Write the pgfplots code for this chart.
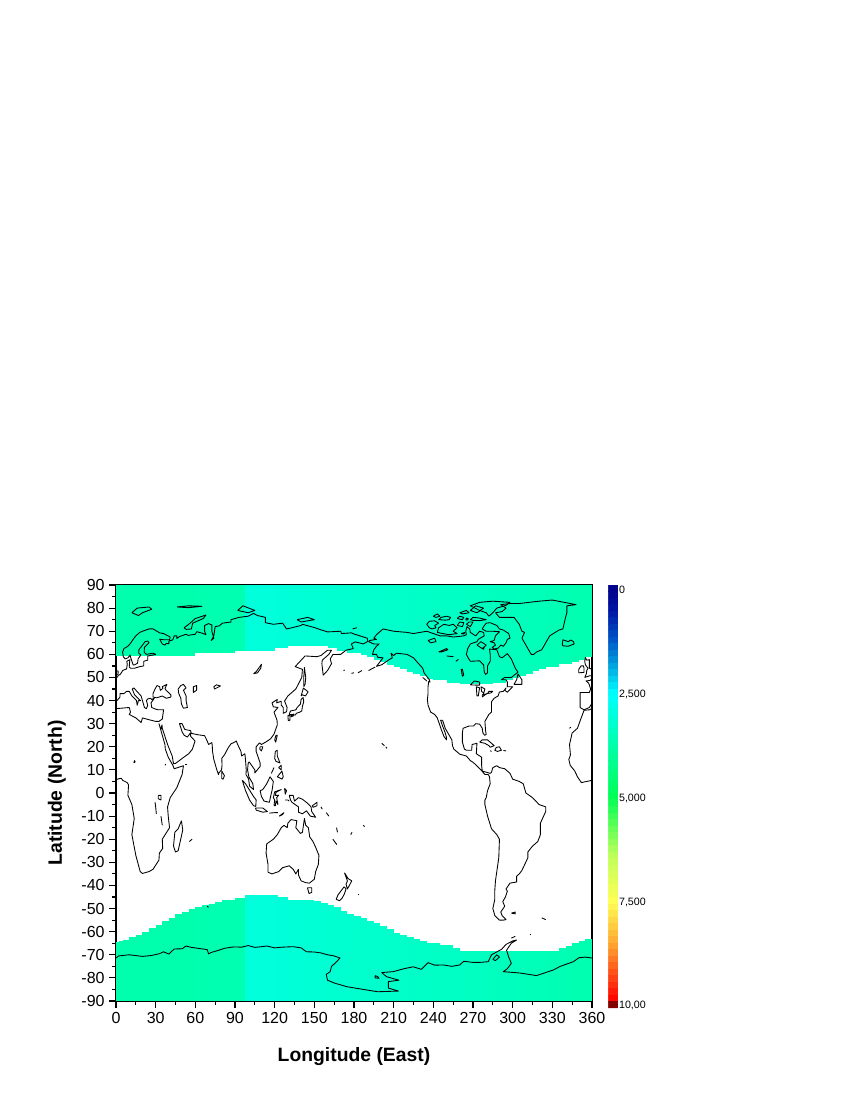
\documentclass[border=0pt]{standalone}
\usepackage{fontspec}
\setmainfont{Liberation Sans}
\usepackage{pgfplots}
\usepackage{pgfplotstable}
\pgfplotsset{compat=1.18}
\pgfplotstableread{
lon n s m
1.25 59.4 -64.5 3.72
3.75 59.4 -64 3.72
6.25 59.4 -63.5 3.72
8.75 59.4 -63.5 3.72
11.25 59.4 -62.5 3.72
13.75 59.4 -62.5 3.72
16.25 59.4 -61.5 3.72
18.75 59.4 -61.5 3.72
21.25 59.4 -60 3.72
23.75 59.4 -60 3.72
26.25 59.4 -58.5 3.72
28.75 59.4 -58.5 3.72
31.25 59.4 -57 3.72
33.75 59.4 -57 3.72
36.25 59.4 -55.5 3.72
38.75 59.4 -55.5 3.72
41.25 59.4 -54 3.7
43.75 59.4 -54 3.7
46.25 59.4 -52.5 3.7
48.75 59.4 -52.5 3.7
51.25 59.4 -51.3 3.7
53.75 59.4 -51.3 3.7
56.25 59.4 -50.2 3.7
58.75 59.4 -50.2 3.7
61.25 60.7 -49.2 3.68
63.75 60.7 -49.2 3.68
66.25 60.7 -48.5 3.68
68.75 60.7 -48.5 3.68
71.25 60.7 -48 3.68
73.75 60.7 -48 3.68
76.25 60.7 -47.2 3.68
78.75 60.7 -47.2 3.68
81.25 60.7 -46.3 3.66
83.75 60.7 -46.3 3.66
86.25 60.7 -46.3 3.66
88.75 60.7 -46.3 3.66
91.25 61.6 -45.5 3.66
93.75 61.6 -45.5 3.66
96.25 61.6 -45.5 3.66
98.75 61.6 -44.3 3.05
101.25 61.6 -44.3 3.05
103.75 61.6 -44.3 3.05
106.25 61.6 -44.3 3.05
108.75 61.6 -44.3 3.05
111.25 61.6 -44.3 3.05
113.75 61.6 -44.3 3.05
116.25 61.6 -44.3 3.05
118.75 61.6 -44.3 3.05
121.25 62.6 -44.3 3.05
123.75 62.6 -45.2 3.07
126.25 62.6 -45.2 3.07
128.75 62.6 -45.2 3.07
131.25 63.6 -46.2 3.09
133.75 63.6 -46.2 3.09
136.25 63.6 -46.2 3.09
138.75 63.6 -46.2 3.11
141.25 63.6 -46.2 3.11
143.75 63.6 -46.2 3.11
146.25 63.6 -46.2 3.13
148.75 63.6 -46.2 3.13
151.25 63.6 -46.8 3.13
153.75 63.6 -46.8 3.15
156.25 63.6 -47.5 3.15
158.75 63.6 -47.5 3.15
161.25 62.6 -48.4 3.17
163.75 62.6 -48.4 3.17
166.25 62.6 -49.5 3.17
168.75 61.6 -49.5 3.19
171.25 61.6 -51 3.19
173.75 61.6 -51 3.19
176.25 60.7 -52.3 3.21
178.75 60.7 -52.3 3.21
181.25 60.7 -53.3 3.21
183.75 60.7 -53.3 3.23
186.25 59.7 -54.3 3.23
188.75 59.7 -54.3 3.23
191.25 58.7 -55.2 3.25
193.75 58.7 -55.2 3.25
196.25 57.5 -56.2 3.25
198.75 57.5 -56.2 3.25
201.25 56.5 -57.5 3.27
203.75 56.5 -57.5 3.27
206.25 55.5 -59 3.27
208.75 55.5 -59 3.27
211.25 54.5 -60.5 3.29
213.75 54.5 -60.5 3.29
216.25 53.5 -61.5 3.29
218.75 53.5 -61.5 3.29
221.25 52.5 -62.3 3.31
223.75 52.5 -62.3 3.31
226.25 51.5 -63.2 3.31
228.75 51.5 -63.2 3.31
231.25 50.5 -64.2 3.33
233.75 50.5 -64.2 3.33
236.25 49.5 -65 3.33
238.75 49.5 -65 3.33
241.25 48.7 -65 3.35
243.75 48.7 -65 3.35
246.25 48.7 -65.7 3.35
248.75 48.7 -65.7 3.35
251.25 47.7 -65.7 3.37
253.75 47.7 -65.7 3.37
256.25 47.7 -67 3.37
258.75 47.7 -67 3.37
261.25 47 -68.4 3.39
263.75 47 -68.4 3.39
266.25 47 -68.4 3.39
268.75 47 -68.4 3.41
271.25 47 -68.4 3.41
273.75 47 -68.4 3.41
276.25 47 -68.4 3.43
278.75 47 -68.4 3.43
281.25 47 -68.4 3.43
283.75 47 -68.4 3.45
286.25 47.7 -68.4 3.45
288.75 47.7 -68.4 3.45
291.25 47.7 -68.4 3.47
293.75 47.7 -68.4 3.47
296.25 48.7 -68.4 3.47
298.75 48.7 -68.4 3.49
301.25 49.7 -68.4 3.49
303.75 49.7 -68.4 3.49
306.25 50.7 -68.4 3.51
308.75 50.7 -68.4 3.51
311.25 51.7 -68.4 3.51
313.75 51.7 -68.4 3.53
316.25 52.7 -68.4 3.53
318.75 52.7 -68.4 3.53
321.25 53.7 -68.4 3.55
323.75 53.7 -68.4 3.55
326.25 54.7 -68.4 3.57
328.75 54.7 -68.4 3.57
331.25 54.7 -68.4 3.59
333.75 54.7 -68.4 3.59
336.25 55.7 -67 3.61
338.75 55.7 -67 3.61
341.25 55.7 -66 3.63
343.75 55.7 -66 3.63
346.25 56.7 -64.7 3.65
348.75 56.7 -64.7 3.65
351.25 57.7 -64 3.67
353.75 57.7 -64 3.67
356.25 58.7 -63.3 3.69
358.75 58.7 -63.3 3.69
}\bandtable
\pgfplotsset{
 coast/.style={black,line width=0.65pt,no markers,line join=round,forget plot},
}
\begin{document}
\begin{tikzpicture}
\useasboundingbox (0pt,0pt) rectangle (637.5pt,825pt);
\begin{axis}[
 at={(87pt,74.25pt)},anchor=south west,
 scale only axis,width=357pt,height=312pt,
 xmin=0,xmax=360,ymin=-90,ymax=90,
 xtick={0,30,...,360},minor xtick={15,45,...,345},
 ytick={-90,-80,...,90},minor ytick={-85,-75,...,85},
 xtick pos=bottom,ytick pos=left,tick align=outside,
 major tick length=5pt,minor tick length=3pt,
 every tick/.style={black,line width=0.9pt},
 axis line style={line width=1.1pt},
 tick label style={font=\fontsize{12}{14}\selectfont},
 /pgf/number format/assume math mode=true,
 xlabel={Longitude (East)},ylabel={Latitude (North)},
 label style={font=\bfseries\fontsize{14.5}{17}\selectfont},
 xlabel style={at={(axis description cs:0.5,0)},anchor=north,yshift=-31.5pt},
 ylabel style={at={(axis description cs:0,0.5)},anchor=south,yshift=34pt},
 colormap={bar}{[1pt]
  rgb255(0pt)=(0,0,135);
  rgb255(62pt)=(0,20,165);
  rgb255(137pt)=(0,90,200);
  rgb255(200pt)=(0,170,225);
  rgb255(262pt)=(0,255,255);
  rgb255(512pt)=(0,255,85);
  rgb255(650pt)=(190,255,90);
  rgb255(762pt)=(255,255,85);
  rgb255(860pt)=(255,170,50);
  rgb255(1000pt)=(255,0,0);
  rgb255(1007pt)=(255,0,0);
  rgb255(1008pt)=(130,0,0);
  rgb255(1017pt)=(130,0,0)},
 point meta min=-0.12,point meta max=10.05,
 colorbar sampled,
 colorbar style={
  samples=66,
  at={(parent axis.north east)},anchor=north west,xshift=3.75pt,
  width=7.5pt,height=317.25pt,
  y dir=reverse,
  axis line style={draw=none},
  ytick={0,2.5,5,7.5,10},
  yticklabels={0,{2,500},{5,000},{7,500},{10,00}},
  yticklabel pos=right,
  major tick length=0pt,
  every tick/.style={draw=none},
  ytick style={draw=none},
  yticklabel style={font=\fontsize{8}{9}\selectfont,xshift=-3pt},
 },
]
\addplot[forget plot,point meta=\thisrow{m},
 quiver={u=0,v=90-\thisrow{n},colored=mapped color,
  every arrow/.append style={line width=2.55pt,-}}]
 table[x=lon,y=n]{\bandtable};
\addplot[forget plot,point meta=\thisrow{m},
 quiver={u=0,v=\thisrow{s}+90,colored=mapped color,
  every arrow/.append style={line width=2.55pt,-}}]
 table[x=lon,y expr=-90]{\bandtable};
% Europe, Asia, Africa (east part)
\addplot[coast] coordinates {(0,49.5)(2,51)(3,51.2)(4,52)(5,53)(8,53.7)(8.5,55.5)(8.2,57)(10.5,57.7)(10.2,56)(10,54.5)(11,54)(14,54)(18,54.7)(21,55)(21,57)(24,57.5)(24,59.3)(28,59.7)(30,60)(28,60.5)(23,60)(21.3,61)(21.5,63)(25,65)(24,65.8)(22,65.5)(19,63.2)(17.3,62)(17.2,60.5)(18.8,59.8)(16.7,58)(16.3,56.2)(14.3,55.5)(13,55.4)(11,58.8)(10.7,59.7)(9,58.5)(7,58)(5.5,59)(5,61)(6,62.5)(9,63.5)(11,64.8)(13,66.5)(15,68)(18,69.5)(21,70.2)(25,71)(28,71)(31,70)(33,69.3)(36,69)(41,67.5)(40.5,66.3)(36,66.3)(33,66.6)(35,64.5)(37,64)(38,64.7)(40,64.6)(40,65.7)(43,66.3)(44,68)(46,68)(46,66.9)(48,67.7)(53,68.7)(54.5,68.2)(60,68.7)(61,69.8)(65,69.2)(68,68.5)(67,70)(67,72.5)(70,73.3)(72.5,72.7)(72.5,70)(74,67)(72,66)(74,68)(75,72)(78,72.3)(80.5,73.5)(87,74)(87,75)(93,76)(100,76.5)(104,77.7)(107,76.8)(113,76)(113,73.7)(119,73)(126,73.5)(129,71)(133,71.5)(140,72.5)(141,73)(150,71.6)(153,71)(160,69.7)(170,70)(170.5,69)(178,69.3)(180,68.8)(190,67)(190.5,65.6)(187,64.5)(181,65.4)(178,64.5)(179.5,62.5)(174,61.8)(170,60)(164,59.9)(162,58)(163,56)(160,53)(156.7,51)(155.7,56)(156,57.5)(161,60)(163,61.8)(160,61.8)(155,59.5)(152,59)(143,59.3)(135.5,54.7)(141,53.5)(140.5,50)(136,45)(132,43)(130,42)(127.5,39.8)(129.4,37)(129,35.2)(126.5,34.5)(126.5,37)(125,38)(125,39.7)(121.5,39)(122,40.5)(118,39)(119,37.3)(122.5,37)(119.5,35)(121.8,31.5)(122,29.5)(119.5,25.5)(117,23.5)(114,22.3)(110,21)(108.5,21.7)(106,20)(106,18)(109,13)(109,11.5)(105,8.7)(105,10)(102.5,12)(100.8,13.4)(100,13)(99.5,10)(100.5,7)(103.5,4)(104,1.5)(101,3)(100.3,6)(98.3,8)(98.5,10)(98,14)(97.5,17)(95,16)(94.5,18)(92,21)(91,22.5)(89,21.8)(87,21.3)(85,19.7)(82,16.5)(80,15)(80.2,12)(79.8,10)(78,8.8)(77.5,8)(76,10.5)(74,14.5)(73,18)(72.8,20.5)(72.5,21.8)(70,21)(69,22.5)(67,24.8)(62,25.2)(57,25.8)(56.4,27)(52,27.5)(50,30)(48,30)(50,26.5)(51.5,25)(54,24.2)(56.3,26)(56.5,24.5)(59.8,22.5)(57.8,19)(55,17)(52,15.8)(45,12.8)(43.5,12.7)(42.5,16)(39,21)(35,28)(34.8,29.5)(34,27.5)(32.5,30)(33.5,28)(35.5,24)(37,21)(37.3,19)(39.5,15.5)(43,12)(44,10.5)(51,11.8)(50,8)(46,2.3)(41,-2)(39,-6)(39.5,-10)(40.5,-15)(35,-20)(35.3,-24)(32.8,-26)(32.5,-29)(28,-33)(25,-34)(20,-34.8)(18.3,-34)(15,-27)(12,-18)(13.8,-11)(12,-5)(9,-1)(9.5,3.5)(8.5,4.5)(5,5.5)(4,6.4)(1,6)(0,5.5)};
% West Africa
\addplot[coast] coordinates {(360,5.5)(356,5)(352,4.5)(349,7)(347,9.5)(343.5,12)(342.5,14.5)(343.7,16.5)(343,21)(345,26)(349,28)(351.5,32)(354,35.8)(358,36)(360,36.5)};
% Mediterranean
\addplot[coast] coordinates {(0,36.5)(10,37)(11,35)(10,34)(15,32.5)(19,30.5)(20,32.5)(25,31.7)(30,31)(32.5,31)(35,32)(36,36)(32,36)(30,36.3)(27,37)(26.5,39)(29,41)(27,40.5)(26,41)(24,40.7)(23,40)(24,38)(23,36.5)(21.5,37)(20,40)(19,42)(15,44.5)(13.5,45.5)(12.3,45)(14,42.5)(18.5,40)(17,40)(16,38)(15.5,40)(12,42)(10,44)(8,44)(6,43)(3,43)(3,41.5)(0,39.5)};
\addplot[coast] coordinates {(360,39.5)(359.6,38.5)(358,37)(354,36)(351,37)(351,38.5)(351,42)(351,43.5)(358,43.5)(359,45)(357.5,47.5)(355.5,48.5)(358.5,48.7)(360,49.5)};
% Inland waters and islands of the old world
\addplot[coast] coordinates {(28,41.5)(31,41.2)(35,42)(38,41)(41.5,41.5)(41.5,42.5)(38,44.4)(37,45.2)(38.5,47)(35,46)(35.5,45.3)(33.5,44.4)(33,46)(31,46.5)(29.5,45)(28,43)(28,41.5)};
\addplot[coast] coordinates {(47,45)(47.5,43)(49,41)(49.5,38.5)(51,36.7)(54,37)(53,40)(53,42)(51,44.5)(53,45.5)(51,47)(49,46.5)(47,45)};
\addplot[coast] coordinates {(58.5,46)(61,46.5)(61,44.5)(58.5,43.5)(58.5,46)};
\addplot[coast] coordinates {(74,46)(76,46.8)(79,46.3)(74.5,45)(74,46)};
\addplot[coast] coordinates {(104,51.6)(106,52.5)(110,55.7)(109.5,54)(107,52)(104,51.6)};
\addplot[coast] coordinates {(354.5,50)(358,50.7)(360,50.8)(360,53.5)(358,54)(358,55.8)(358,57.7)(356,57.5)(355,58.6)(354.5,57)(355,55.5)(356,54.7)(357,54)(356,53)(355.8,51.7)(354.5,50)};
\addplot[coast] coordinates {(0,51)(1.5,51.3)(1.7,52.7)(0,53)};
\addplot[coast] coordinates {(350,52)(354,52.2)(354,54)(353.5,55)(351.7,55)(350,53.5)(350,52)};
\addplot[coast] coordinates {(337.5,64)(338,66.3)(342,65.5)(344,66.2)(346,65.5)(346.5,64.5)(342,63.5)(338,63.7)(337.5,64)};
\addplot[coast] coordinates {(49.5,-12)(50.5,-16)(47,-25)(45,-25.5)(43.5,-23)(44.5,-17)(47,-15.5)(49.5,-12)};
\addplot[coast] coordinates {(32,-1)(34,-1)(34,-3)(32,-2.5)(32,-1)};
\addplot[coast] coordinates {(29.5,-4)(30,-6)(30.5,-9)};
\addplot[coast] coordinates {(34,-10)(34.5,-12)(35,-14)};
\addplot[coast] coordinates {(13.5,13)(14.5,13.5)(14,14)(13.5,13)};
\addplot[coast] coordinates {(37,12)(37.5,12.4)(37,12)};
\addplot[coast] coordinates {(54,12.5)(52.5,12.5)};
\addplot[coast] coordinates {(57.5,-20)(55.5,-21)};
\addplot[coast] coordinates {(80,9.5)(82,7.5)(81,6)(80,6.2)(80,9.5)};
\addplot[coast] coordinates {(51.5,71.5)(55,73)(60,75.5)(68,77)(66,75.5)(58,73.5)(57,71)(53,70.8)(51.5,71.5)};
\addplot[coast] coordinates {(12,78)(16,80)(25,80.5)(27,79.5)(20,78)(17,76.8)(12,78)};
\addplot[coast] coordinates {(46,80.5)(55,81)(65,80.8)(55,80.2)(46,80.5)};
\addplot[coast] coordinates {(92,79)(96,81)(105,79)(100,78)(92,79)};
\addplot[coast] coordinates {(137,75)(145,76)(150,75)(140,74)(137,75)};
\addplot[coast] coordinates {(179,71)(182,71.5)(179,71)};
\addplot[coast] coordinates {(142,46)(142,50)(142.5,54.3)(143.5,50)(143,47)(142,46)};
\addplot[coast] coordinates {(140,42)(141.7,45.4)(145.3,43.8)(143.3,42)(141,42.5)(140,42)};
\addplot[coast] coordinates {(130.9,34)(132,35.5)(136,36)(137,37)(139.5,38.5)(140,40.5)(141.5,41.3)(142,39.5)(141,37.5)(140.5,35.5)(139,35)(136.5,34.5)(135.5,33.7)(132.5,34)(130.9,34)};
\addplot[coast] coordinates {(130,33.5)(131.7,33.5)(131.5,31.5)(130.3,31.3)(130,33.5)};
\addplot[coast] coordinates {(132.5,33.5)(134.5,34.2)(134,33.3)(132.5,33)(132.5,33.5)};
\addplot[coast] coordinates {(121,25)(122,25)(120.8,22)(120,23)(121,25)};
\addplot[coast] coordinates {(109,20)(111,20)(110,18.2)(108.7,19)(109,20)};
\addplot[coast] coordinates {(120.5,18)(122,18.5)(122,16)(124,13)(121,13.7)(120,15)(120.5,18)};
\addplot[coast] coordinates {(122,7)(125.5,9.5)(126.5,7)(125.5,6)(124,6.5)(122,7)};
\addplot[coast] coordinates {(123,11)(125,12)(125,10)(123,11)};
\addplot[coast] coordinates {(117.5,8.5)(119.5,11)};
\addplot[coast] coordinates {(95.5,5.5)(98,4)(104,-1.5)(106,-3)(105.7,-5.8)(104,-5.5)(101,-3)(98,1)(95.5,5.5)};
\addplot[coast] coordinates {(105.5,-6.5)(108,-6.5)(111,-6.5)(114.5,-8)(111,-8.3)(106,-7.4)(105.5,-6.5)};
\addplot[coast] coordinates {(109,1)(111,1.5)(114,4)(116.5,7)(119,5)(118,1)(117.5,0)(116,-4)(112,-3.5)(110,-1.5)(109,1)};
\addplot[coast] coordinates {(119.5,-5.5)(120,-3)(119,-2)(120,0.5)(125,1.5)(121,0.3)(120.5,-1)(123,-1)(121.5,-2)(122.5,-5)(121,-3.5)(120.5,-5.5)(119.5,-5.5)};
\addplot[coast] coordinates {(127.5,2)(128,-0.5)(129,1)(127.5,2)};
\addplot[coast] coordinates {(128,-3)(130,-3)(131,-3.5)};
\addplot[coast] coordinates {(123.5,-10)(127,-8.5)(126,-9.3)(123.5,-10)};
\addplot[coast] coordinates {(116,-8.7)(120,-8.5)(122.5,-8.5)};
\addplot[coast] coordinates {(131,-1)(134,-1)(135,-3.5)(138,-2)(141,-2.7)(145,-4.5)(147.5,-6)(148,-8)(151,-10.5)(147,-10)(144,-7.7)(141,-9)(138,-8.3)(138,-6)(133,-4)(132,-3)(131,-1)};
\addplot[coast] coordinates {(148.5,-5.5)(152,-4)(152,-5.5)(149,-6.2)(148.5,-5.5)};
\addplot[coast] coordinates {(155,-6)(156,-7)};
\addplot[coast] coordinates {(159,-8.5)(161,-10)};
\addplot[coast] coordinates {(114,-22)(113.5,-26)(115,-31)(115,-34.3)(118,-35)(123,-34)(126,-32.3)(131,-31.5)(134,-33)(136,-35)(138,-33)(138,-35.5)(140,-38)(143.5,-38.8)(146.3,-39)(150,-37.3)(151,-34)(153,-31)(153.5,-27)(151,-23.5)(149,-21)(146.5,-19)(145.5,-15)(143.5,-14)(142.5,-11)(141.5,-15)(141,-17)(139.5,-17.5)(136,-15)(136.8,-12)(132.5,-11.5)(130,-13)(129.5,-15)(127,-14)(125,-15)(122,-18)(119,-20)(114,-22)};
\addplot[coast] coordinates {(144.8,-41)(148,-41)(148,-43)(146,-43.5)(144.8,-41)};
\addplot[coast] coordinates {(172.8,-34.5)(175.5,-37)(178.3,-38)(176.5,-40)(175,-41.5)(174,-39.5)(175,-38)(172.8,-34.5)};
\addplot[coast] coordinates {(172.5,-40.6)(174,-41.5)(172.7,-43.7)(171,-45.5)(169,-46.6)(166.5,-46)(168,-44)(172.5,-40.6)};
\addplot[coast] coordinates {(164,-20)(167,-22.3)};
\addplot[coast] coordinates {(166.8,-15)(167.5,-17)};
\addplot[coast] coordinates {(177.5,-18)(178.5,-17)};
\addplot[coast] coordinates {(187,-14)(188,-14.5)};
\addplot[coast] coordinates {(183,-44)(183.5,-44)};
\addplot[coast] coordinates {(69,-49)(70,-49.5)};
\addplot[coast] coordinates {(172,53)(173,53.2)};
\addplot[coast] coordinates {(178,51.8)(180,52)};
\addplot[coast] coordinates {(183,52)(186,53)};
\addplot[coast] coordinates {(191,53)(196,54.5)};
\addplot[coast] coordinates {(201,21.5)(203,20.5)};
\addplot[coast] coordinates {(204,20)(205,19.3)};
% Americas
\addplot[coast] coordinates {(191,65.5)(192,66)(197,66.5)(195,67)(197,68.5)(202,71)(210,70)(220,69.5)(225,69)(230,69.5)(235,70)(240,69)(245,68)(250,68)(255,67.5)(260,67.8)(263,68)(265,68.5)(264.5,70)(265.5,72)(267.5,71)(268,69.5)(272,68)(275,70)(278,69.5)(278.5,68)(274,66.5)(273,65.5)(268,64.5)(266,62.5)(265,60)(266,58.8)(268,57)(275,57.2)(278,55.5)(278.5,52.5)(279.5,51.3)(281,52)(281,55)(283,57)(283,60)(282.5,62.3)(288,62)(290,59)(292,58.5)(296,60.3)(299,58)(302,54)(304,52.3)(299,50)(294,50)(291.5,49)(295,49)(296,48)(296,46)(299,46)(300,46)(296,43.6)(294,44.5)(295,45.5)(293,44)(290,43.7)(289,42)(286,41)(284,39.5)(284,37)(284,35)(282,34)(279,31)(279.5,27)(280,25.3)(278.8,25)(277.5,26)(277,28)(275,29.8)(272,30)(270.5,29)(267,29)(262.5,28)(262,26)(262,22)(263.5,19)(265,18.5)(269,18.5)(269.3,21)(273,21.5)(272.5,17)(276.5,15.5)(276.5,12)(277,9.5)(280,9)(283,8.5)(284,9)(285,11)(288,11.8)(290,11)(294,10.5)(298,8.5)(300,6)(305,5)(308,4)(310,0)(315,-2)(320,-5)(325,-6)(325,-8)(321,-13)(321,-18)(319,-21)(315,-23)(311.5,-25.5)(311.5,-28)(307,-33.5)(305,-35)(303,-36)(303,-38.5)(298,-39)(295,-41.5)(296,-42.5)(294.5,-45)(292.5,-47)(294,-49)(291,-51.5)(292,-53)(295,-54.8)(293,-55)(290,-55)(286.5,-53)(285,-50)(286.5,-46)(286.5,-42)(287,-38)(288.5,-32)(289.5,-28)(290,-20)(288,-18)(284,-15.5)(281,-10)(279,-5)(279,-3)(280,-2)(281,1)(283,4)(282.5,7)(281.5,8)(279,8)(276,10)(272.5,12)(270,13.3)(268,14)(265,16)(260,16.8)(255.5,19)(254.5,20.5)(254,23)(251,26)(249,28)(247,31.5)(245.5,31.5)(247,29)(249,26)(250,24)(250,23)(248,24.5)(246,27.5)(244.5,30)(243,32.5)(241,34)(238,35)(236,38)(235.5,40.5)(236,43)(236,46)(236.5,48.3)(237.5,48)(237,49)(235,50.5)(233,52)(232,54)(228,56.5)(225,58.5)(220,60)(212,60.5)(210,59.5)(208,60.5)(209,58.5)(206,57.5)(201,55.5)(197,54.8)(200,57)(202,58.5)(198,58.7)(197,60)(194,60)(195,62)(197,63.5)(199,64.5)(195,64.5)(191,65.5)};
\addplot[coast] coordinates {(287,78)(290,76)(292,76)(296,76)(301,76)(305,73)(307,70)(309,69.5)(307,67)(309,65)(311,63)(314,60)(316,60)(318,61)(322,62)(325,65)(328,68)(335,70.5)(338,71)(339,73.5)(340,76)(341,78)(341,81)(348,81.5)(330,83.5)(320,83)(305,82)(298,82)(291,81.5)(295,80)(292,78.5)(287,78)};
\addplot[coast] coordinates {(282,76.5)(280,78)(275,79)(268,81)(275,82.5)(285,83)(298,82.5)(295,81.2)(288,80)(285,78)(282,76.5)};
\addplot[coast] coordinates {(278,72)(280,73.5)(283,73.7)(288,72.5)(290,71)(293,70.5)(297,69)(298,67)(296,66.5)(295,65)(293,63.5)(291,64)(289,62.7)(286,62.3)(284.5,63)(287,64)(286,65)(283,65.5)(286,66)(287,68)(290,69.8)(285,70)(280,70)(277,71)(278,72)};
\addplot[coast] coordinates {(243,69.5)(244,71.5)(248,73)(252,72.5)(255,73)(258,71.5)(255,70)(258,69)(252,68.5)(247,69)(243,69.5)};
\addplot[coast] coordinates {(237,71.5)(235,73)(237,74.3)(241,74.5)(244,73.5)(241,72.5)(242,71.5)(239,71)(237,71.5)};
\addplot[coast] coordinates {(244,75)(246,76)(250,76.5)(253,76)(252,75)(249,74.8)(244,75)};
\addplot[coast] coordinates {(240,76.5)(243,77.5)(245,76.5)(242,76)(240,76.5)};
\addplot[coast] coordinates {(258,75.5)(260,76.5)(263,76)(262,75)(258,75.5)};
\addplot[coast] coordinates {(264.5,75)(265,75.7)(266.5,75.4)(265.5,74.8)(264.5,75)};
\addplot[coast] coordinates {(268,75)(270,76)(275,75.7)(280,75)(275,74.6)(270,74.7)(268,75)};
\addplot[coast] coordinates {(265,73)(267,74)(270,74)(268,72)(265,73)};
\addplot[coast] coordinates {(258,72.5)(260,74)(263,73.7)(262,72)(258,72.5)};
\addplot[coast] coordinates {(261,69)(264,69.5)(263,68.8)(261,69)};
\addplot[coast] coordinates {(268,79)(272,81)(278,80)(273,78)(268,79)};
\addplot[coast] coordinates {(260,78)(265,79)(267,78)(262,77.5)(260,78)};
\addplot[coast] coordinates {(273,64)(276,65.5)(280,64)(277,62.5)(273,64)};
\addplot[coast] coordinates {(277,62.5)(278.5,63)(278,62.2)(277,62.5)};
\addplot[coast] coordinates {(301,47)(303,49)(304,51.5)(307,49)(307,47)(304,47)(301,47)};
\addplot[coast] coordinates {(232,50)(235,48.5)(232,50)};
\addplot[coast] coordinates {(236,66)(241,67)(242,65.5)(238,65)(236,66)};
\addplot[coast] coordinates {(244,61)(250,62.5)(251,62)(246,61)(244,61)};
\addplot[coast] coordinates {(250,59.3)(255,59)(250,59.3)};
\addplot[coast] coordinates {(257,57)(259,57.8)};
\addplot[coast] coordinates {(261,53.5)(262,50.5)(263,51)(262,53.5)(261,53.5)};
\addplot[coast] coordinates {(268,46.8)(271,48.5)(275,48)(275,46.7)(272,46.7)(268,46.8)};
\addplot[coast] coordinates {(272.5,46)(273,42)(274,42)(275,45.5)(272.5,46)};
\addplot[coast] coordinates {(276,46)(279,45)(278,43)(277.5,43.5)(276.5,44)(276,46)};
\addplot[coast] coordinates {(277,42.5)(281,43)(282,44)(285,44)(283.5,43.3)(280.5,43)(277,41.6)(277,42.5)};
\addplot[coast] coordinates {(275,22)(277,23)(281,23)(286,20.5)(283,19.8)(282,20.5)(279,21.5)(275,22)};
\addplot[coast] coordinates {(287.5,19.7)(290,20)(291.5,18.5)(288.5,18)(286.5,18.5)(287.5,19.7)};
\addplot[coast] coordinates {(283,18.3)(284,18)};
\addplot[coast] coordinates {(293,18.4)(295,18.2)};
\addplot[coast] coordinates {(343,28)(344,28.5)};
\addplot[coast] coordinates {(299,-52)(302,-51.5)(302,-52.3)(299,-52)};
\addplot[coast] coordinates {(322,-54)(325,-54.8)};
\addplot[coast] coordinates {(313,-61)(314,-61)};
\addplot[coast] coordinates {(299,-62.8)(302,-62)};
% Antarctica
\addplot[coast] coordinates {(0,-71.4)(2,-70.5)(10,-70)(20,-70.7)(27,-70.3)(33,-69.5)(36,-68.7)(40,-69.7)(44,-67.5)(50,-67.4)(53,-66.2)(57,-66.8)(62,-67.2)(67,-67.6)(69,-67.8)(70,-69.6)(72,-69)(78,-68)(82,-67.2)(88.8,-66.6)(95,-66.7)(100,-66)(105,-66.8)(110,-66.5)(114,-66.2)(120,-67)(126,-66.7)(134,-66.5)(140,-67)(144,-68.7)(150,-68.8)(155,-69.2)(160,-70)(165,-70.5)(169.4,-71.4)(166,-73.5)(163,-75)(162,-77.3)(159,-78.5)(160,-81)(165,-82.2)(174.5,-83.8)(185,-84.8)(198,-86)(213.6,-85.7)(206,-84.4)(206,-81.6)(214,-81)(204.7,-79.5)(201,-77.7)(209.7,-77.3)(218,-76)(224.8,-75.2)(231,-76.3)(236,-73.4)(241,-74.5)(247.5,-74.4)(254,-75)(260,-74.4)(263,-72.8)(270,-73.3)(275,-73.3)(281.5,-73)(284,-70)(291.7,-67.6)(295,-65.5)(300,-64)(303,-63.6)(299,-65)(295.4,-68)(297,-71)(299,-73.7)(296,-76)(292.9,-77.3)(305.6,-77.9)(318,-79)(330.7,-76.6)(336,-75)(345.9,-73)(350,-71.3)(355,-71)(360,-71.4)};
\addplot[coast] coordinates {(196,-79)(198,-79.5)(199,-80.2)(196,-80)(196,-79)};
\addplot[coast] coordinates {(285,-72)(288,-70)(290,-71)(287,-72.5)(285,-72)};
\end{axis}
\end{tikzpicture}
\end{document}
